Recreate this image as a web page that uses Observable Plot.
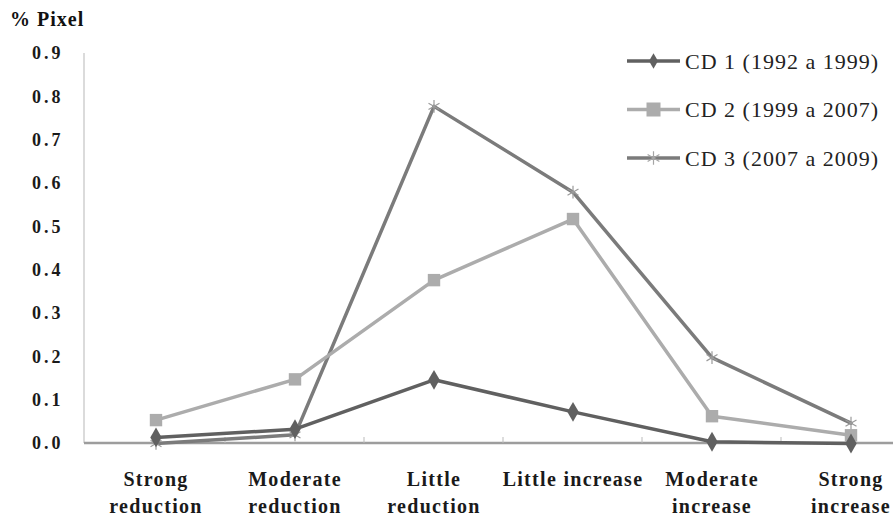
<!DOCTYPE html>
<html>
<head>
<meta charset="utf-8">
<script src="https://cdn.jsdelivr.net/npm/d3@7"></script>
<script src="https://cdn.jsdelivr.net/npm/@observablehq/plot@0.6"></script>
<style>
  html, body { margin: 0; padding: 0; background: #fff; overflow: hidden; }
  #chart { position: relative; width: 893px; height: 517px; }
  #title { position: absolute; left: 10px; top: 8px; font: bold 20px "Liberation Serif", serif; letter-spacing: 1px; color: #111; z-index: 2; }
</style>
</head>
<body>
<div id="chart"><div id="title">% Pixel</div></div>
<script>
const categories = ["Strong\nreduction", "Moderate\nreduction", "Little\nreduction", "Little increase", "Moderate\nincrease", "Strong\nincrease"];
const seriesNames = ["CD 1 (1992 a 1999)", "CD 2 (1999 a 2007)", "CD 3 (2007 a 2009)"];
const cd1 = [0.014, 0.033, 0.147, 0.073, 0.004, 0.0];
const cd2 = [0.054, 0.148, 0.377, 0.518, 0.063, 0.019];
const cd3 = [0.0, 0.02, 0.778, 0.58, 0.198, 0.047];
const yTicks = [0, 0.1, 0.2, 0.3, 0.4, 0.5, 0.6, 0.7, 0.8, 0.9];
const colors = ["#606060", "#acacac", "#7b7b7b"];
const symbols = ["diamond", "square", "asterisk"];

const rows = [];
[cd1, cd2, cd3].forEach((vals, s) => vals.forEach((v, i) => rows.push({series: seriesNames[s], cat: categories[i], value: v})));
const drawOrder = [2, 1, 0];

const marks = [
  Plot.axisY({ticks: yTicks, tickFormat: d3.format(".1f"), tickSize: 0, tickPadding: 21,
    fontSize: 18, fontWeight: "bold", fontFamily: "Liberation Serif, serif", fill: "#1a1a1a", label: null}),
  Plot.axisX({tickSize: 0, tickPadding: 24, fontSize: 20, fontWeight: "bold",
    fontFamily: "Liberation Serif, serif", fill: "#1a1a1a", label: null, lineHeight: 1.32})
];
for (const s of drawOrder) {
  const data = rows.filter(d => d.series === seriesNames[s]);
  marks.push(Plot.line(data, {x: "cat", y: "value", stroke: colors[s], strokeWidth: 3.5}));
  if (symbols[s] === "asterisk") {
    marks.push(Plot.dot(data, {x: "cat", y: "value", symbol: "asterisk", r: 6, stroke: "#9a9a9a", strokeWidth: 1.2}));
  } else if (symbols[s] === "square") {
    marks.push(Plot.dot(data, {x: "cat", y: "value", symbol: "square", r: 7, fill: colors[s], stroke: "none"}));
  } else {
    marks.push(Plot.dot(data, {x: "cat", y: "value", symbol: "diamond", r: 6, fill: colors[s], stroke: "none"}));
  }
}

const plot = Plot.plot({
  width: 893, height: 517,
  marginTop: 53, marginBottom: 74, marginLeft: 84, marginRight: -29,
  style: {background: "white", overflow: "visible", fontFamily: "Liberation Serif, serif"},
  x: {type: "band", domain: categories, padding: 0, label: null},
  y: {domain: [0, 0.9], label: null},
  marks
});

const svg = d3.select(plot);
svg.selectAll('g[aria-label^="y-axis"] text').style("font-size", "18px").style("font-weight", "bold").style("letter-spacing", "3px");
svg.selectAll('g[aria-label^="x-axis"] text').style("font-size", "20px").style("font-weight", "bold").style("letter-spacing", "1.3px");

const xs = plot.scale("x"), ys = plot.scale("y");
const x0 = xs.range[0], x1 = xs.range[1], y0 = ys.apply(0), yTop = ys.apply(0.9);
const axes = svg.insert("g", ":first-child");
axes.append("line").attr("x1", x0).attr("x2", x0).attr("y1", yTop).attr("y2", y0).attr("stroke", "#cfcfcf").attr("stroke-width", 1.5);
axes.append("line").attr("x1", x0).attr("x2", x1).attr("y1", y0).attr("y2", y0).attr("stroke", "#9d9d9d").attr("stroke-width", 2.5);
categories.forEach((c, i) => {
  if (i > 0) axes.append("line").attr("x1", xs.apply(c)).attr("x2", xs.apply(c)).attr("y1", y0).attr("y2", y0 - 6).attr("stroke", "#bbb").attr("stroke-width", 1);
});

// Legend
const lg = svg.append("g").attr("font-family", "Liberation Serif, serif").attr("font-size", 22).attr("fill", "#222").attr("text-anchor", "start").style("letter-spacing", "1px");
seriesNames.forEach((name, s) => {
  const ly = 61 + s * 48.5;
  lg.append("line").attr("x1", 627).attr("x2", 680).attr("y1", ly).attr("y2", ly).attr("stroke", colors[s]).attr("stroke-width", 3.5);
  const cx = 653.5;
  if (symbols[s] === "diamond") {
    lg.append("path").attr("d", d3.symbol(d3.symbolDiamond, 70)()).attr("transform", `translate(${cx},${ly})`).attr("fill", colors[s]);
  } else if (symbols[s] === "square") {
    lg.append("rect").attr("x", cx - 7).attr("y", ly - 7).attr("width", 14).attr("height", 14).attr("fill", colors[s]);
  } else {
    lg.append("path").attr("d", d3.symbol(d3.symbolAsterisk, 130)()).attr("transform", `translate(${cx},${ly})`).attr("stroke", "#a5a5a5").attr("stroke-width", 1.2).attr("fill", "none");
  }
  lg.append("text").attr("x", 685).attr("y", ly).attr("dy", "0.35em").text(name);
});

document.getElementById("chart").appendChild(plot);
plot.style.position = "absolute";
plot.style.left = "0px";
plot.style.top = "0px";
plot.style.zIndex = "1";
</script>
</body>
</html>
